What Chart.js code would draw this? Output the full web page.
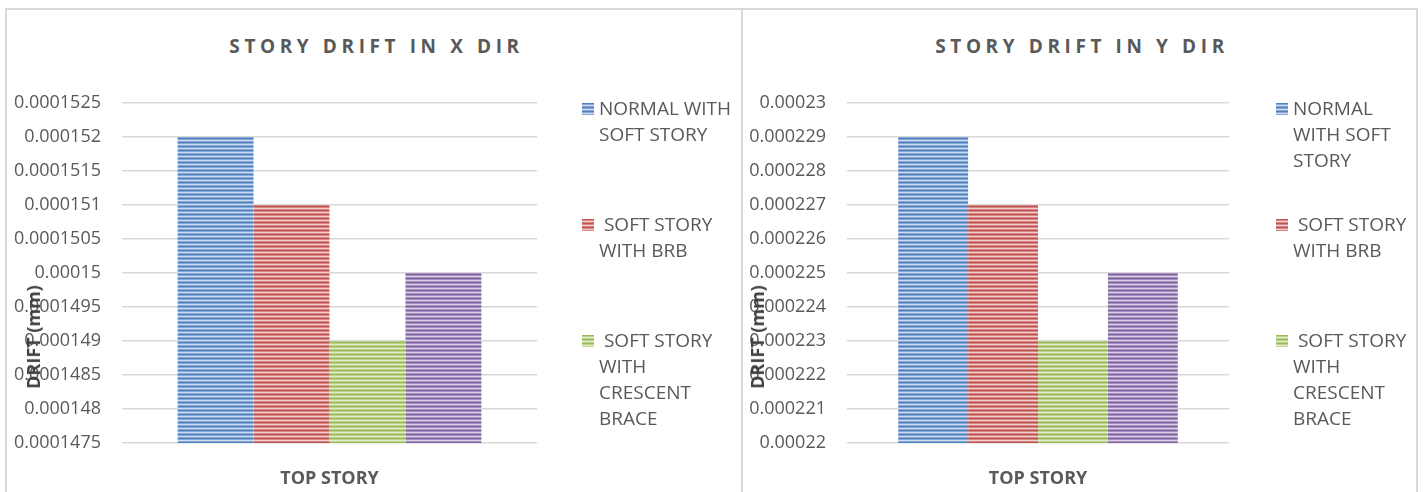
<!DOCTYPE html>
<html>
<head>
<meta charset="utf-8">
<script src="https://cdn.jsdelivr.net/npm/chart.js@4.4.1/dist/chart.umd.min.js"></script>
<style>
  body { margin: 0; background: #fff; width: 1423px; height: 492px; overflow: hidden; position: relative; font-family: "Open Sans", sans-serif; }
  .line { position: absolute; background: #d9d9d9; }
  canvas { position: absolute; }
  .title { position: absolute; top: 33px; height: 26px; line-height: 26px; font-weight: bold; font-size: 19px; letter-spacing: 4.6px; padding-left: 5px; box-sizing: border-box; color: #595959; text-align: center; white-space: nowrap; }
  .ytitle { position: absolute; font-weight: bold; font-size: 18px; color: #404040; transform: translate(-50%, -50%) rotate(-90deg); white-space: nowrap; }
  .legend-text { position: absolute; font-size: 19px; line-height: 26px; color: #595959; white-space: pre-wrap; }
  .swatch { position: absolute; width: 12px; height: 12px; }
</style>
</head>
<body>
<div class="line" style="left:5px;top:8px;width:2px;height:484px"></div>
<div class="line" style="left:741px;top:8px;width:2px;height:484px"></div>
<div class="line" style="left:1416px;top:8px;width:2px;height:484px"></div>
<div class="line" style="left:5px;top:8px;width:1413px;height:2px"></div>

<div class="title" style="left:6px;width:736px">STORY DRIFT IN X DIR</div>
<div class="title" style="left:742px;width:675px">STORY DRIFT IN Y DIR</div>

<canvas id="chartX" width="734" height="482" style="left:7px;top:10px;width:734px;height:482px"></canvas>
<canvas id="chartY" width="673" height="482" style="left:743px;top:10px;width:673px;height:482px"></canvas>

<div class="ytitle" style="left:33px;top:337px">DRIFT (mm)</div>
<div class="ytitle" style="left:757px;top:337px">DRIFT (mm)</div>

<script>
// data
const categories = ['TOP STORY'];
const seriesNames = ['NORMAL WITH SOFT STORY', ' SOFT STORY WITH BRB', ' SOFT STORY WITH CRESCENT BRACE', ''];
const driftX = [0.000152, 0.000151, 0.000149, 0.00015];
const driftY = [0.000229, 0.000227, 0.000223, 0.000225];
const ticksX = ['0.0001475', '0.000148', '0.0001485', '0.000149', '0.0001495', '0.00015',
                '0.0001505', '0.000151', '0.0001515', '0.000152', '0.0001525'];
const ticksY = ['0.00022', '0.000221', '0.000222', '0.000223', '0.000224', '0.000225',
                '0.000226', '0.000227', '0.000228', '0.000229', '0.00023'];

// dark, mid, light stripe tones per series
const darkColors = ['#4f81bd', '#c0504d', '#9bbb59', '#8064a2'];
const midColors = ['#86a6d5', '#d58886', '#bcd28f', '#a690c2'];
const lightColors = ['#cddcef', '#f0cfce', '#e3ecce', '#dbd1e6'];

// horizontal stripes like the Excel fill
function stripes(i) {
    const c = document.createElement('canvas');
    c.width = 4;
    c.height = 4;
    const g = c.getContext('2d');
    g.fillStyle = darkColors[i];
    g.fillRect(0, 0, 4, 1);
    g.fillStyle = midColors[i];
    g.fillRect(0, 1, 4, 1);
    g.fillStyle = lightColors[i];
    g.fillRect(0, 2, 4, 1);
    g.fillStyle = midColors[i];
    g.fillRect(0, 3, 4, 1);
    return g.createPattern(c, 'repeat');
}

function makeChart(id, values, tickLabels, axisWidth, padRight) {
    const nums = tickLabels.map(Number);
    return new Chart(document.getElementById(id), {
        type: 'bar',
        data: {
            labels: categories,
            datasets: seriesNames.map((name, i) => ({
                label: name,
                data: [values[i]],
                backgroundColor: stripes(i),
                borderWidth: 0,
                categoryPercentage: 0.732,
                barPercentage: 1
            }))
        },
        options: {
            responsive: false,
            animation: false,
            layout: { padding: { top: 93, right: padRight, bottom: 0, left: 0 } },
            plugins: {
                legend: { display: false },
                title: { display: false },
                tooltip: { enabled: false }
            },
            scales: {
                x: {
                    grid: { display: false },
                    border: { display: false },
                    ticks: { color: '#595959', font: { family: 'Open Sans', size: 18, weight: 'bold' }, padding: 17 },
                    afterFit: s => { s.height = 49; }
                },
                y: {
                    min: nums[0],
                    max: nums[nums.length - 1],
                    grid: { color: '#d9d9d9', lineWidth: 1.5, drawTicks: false },
                    border: { display: false },
                    ticks: {
                        color: '#595959',
                        font: { family: 'Open Sans', size: 18 },
                        padding: 21,
                        callback: (v, i) => tickLabels[i]
                    },
                    afterBuildTicks: s => { s.ticks = nums.map(v => ({ value: v })); },
                    afterFit: s => { s.width = axisWidth; }
                }
            }
        }
    });
}

// html legend, wrapped like the original
function buildLegend(chart, swatchX, textX, width) {
    chart.data.datasets.forEach((ds, i) => {
        if (!ds.label.trim()) return;
        const top = 95 + i * 116;
        const sw = document.createElement('div');
        sw.className = 'swatch';
        sw.style.left = swatchX + 'px';
        sw.style.top = (top + 8) + 'px';
        sw.style.background = 'repeating-linear-gradient(' + darkColors[i] + ' 0 1px, ' + midColors[i] + ' 1px 2px, ' + lightColors[i] + ' 2px 3px, ' + midColors[i] + ' 3px 4px)';
        document.body.appendChild(sw);
        const t = document.createElement('div');
        t.className = 'legend-text';
        t.style.left = textX + 'px';
        t.style.top = top + 'px';
        t.style.width = width + 'px';
        t.textContent = ds.label;
        document.body.appendChild(t);
    });
}

const chartX = makeChart('chartX', driftX, ticksX, 115, 204);
const chartY = makeChart('chartY', driftY, ticksY, 104, 187);
buildLegend(chartX, 582, 599, 137);
buildLegend(chartY, 1276, 1293, 120);
</script>
</body>
</html>
